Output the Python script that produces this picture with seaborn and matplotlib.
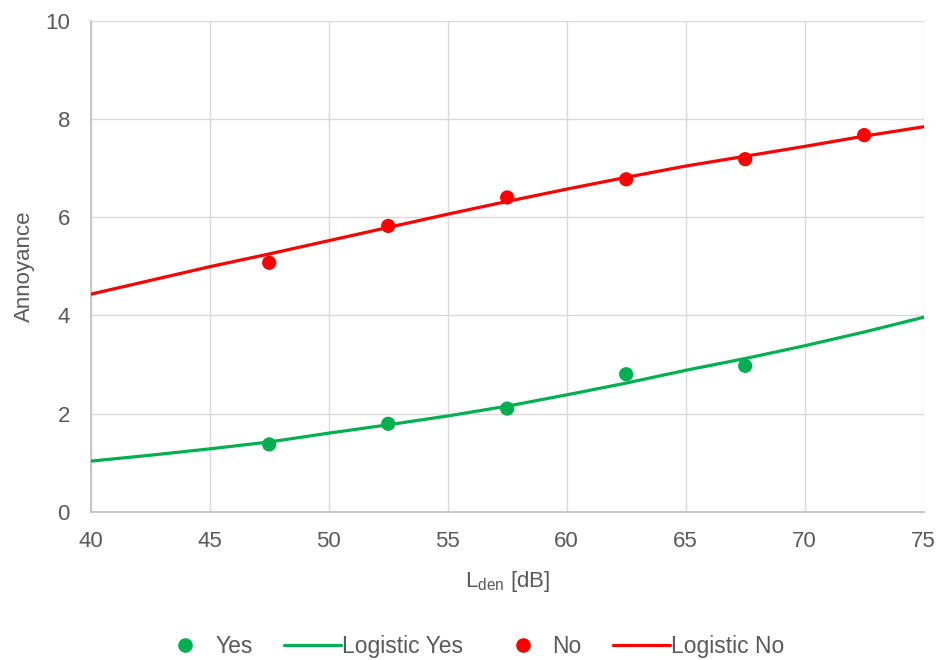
import numpy as np
import pandas as pd
import seaborn as sns
import matplotlib.pyplot as plt
from matplotlib.lines import Line2D

# measured survey points
lden_pts = [47.5, 52.5, 57.5, 62.5, 67.5, 72.5]
yes_pts = [1.37, 1.79, 2.10, 2.80, 2.97]
no_pts = [5.07, 5.82, 6.40, 6.77, 7.18, 7.67]

# fitted logistic curves, every 2.5 dB
lden_fit = [40, 42.5, 45, 47.5, 50, 52.5, 55, 57.5, 60, 62.5, 65, 67.5, 70, 72.5, 75]
yes_fit = [1.03, 1.15, 1.28, 1.42, 1.60, 1.77, 1.95, 2.15, 2.38, 2.62, 2.88, 3.12, 3.38, 3.66, 3.96]
no_fit = [4.43, 4.71, 4.99, 5.25, 5.52, 5.79, 6.06, 6.32, 6.57, 6.81, 7.04, 7.24, 7.44, 7.65, 7.84]

green = "#00B050"
red = "#FF0000"
txt = "#595959"

sns.set_style("whitegrid")
plt.rcParams['font.family'] = ['Liberation Sans', 'DejaVu Sans']

df_pts = pd.concat([
    pd.DataFrame({"Lden": lden_pts[:len(yes_pts)], "Annoyance": yes_pts, "group": "Yes"}),
    pd.DataFrame({"Lden": lden_pts, "Annoyance": no_pts, "group": "No"}),
], ignore_index=True)
df_fit = pd.concat([
    pd.DataFrame({"Lden": lden_fit, "Annoyance": yes_fit, "group": "Logistic Yes"}),
    pd.DataFrame({"Lden": lden_fit, "Annoyance": no_fit, "group": "Logistic No"}),
], ignore_index=True)

fig = plt.figure(figsize=(9.41, 6.60), dpi=100)
ax = fig.add_axes([0.0964, 0.2247, 0.8852, 0.7439])

sns.lineplot(data=df_fit, x="Lden", y="Annoyance", hue="group",
             palette={"Logistic Yes": green, "Logistic No": red},
             linewidth=2.3, legend=False, ax=ax, zorder=3)
sns.scatterplot(data=df_pts, x="Lden", y="Annoyance", hue="group",
                palette={"Yes": green, "No": red}, s=105, edgecolor="none",
                legend=False, ax=ax, zorder=4)

ax.set_xlim(40, 75)
ax.set_ylim(0, 10)
ax.set_xticks(range(40, 76, 5))
ax.set_yticks(range(0, 11, 2))
ax.grid(True, color="#d9d9d9", linewidth=1.0)
for s in ["top", "right"]:
    ax.spines[s].set_visible(False)
for s in ["left", "bottom"]:
    ax.spines[s].set_color("#bfbfbf")
    ax.spines[s].set_linewidth(1.2)
ax.tick_params(axis="both", colors=txt, labelsize=16, length=0)
ax.tick_params(axis="x", pad=14)
ax.tick_params(axis="y", pad=15)
ax.set_xlabel(r"$\mathregular{L_{den}}$ [dB]", fontsize=16, color=txt, labelpad=12)
ax.set_ylabel("Annoyance", fontsize=16, color=txt, labelpad=7)

handles = [
    Line2D([], [], marker="o", linestyle="none", color=green, markersize=9.5),
    Line2D([], [], color=green, linewidth=2.3),
    Line2D([], [], marker="o", linestyle="none", color=red, markersize=9.5),
    Line2D([], [], color=red, linewidth=2.3),
]
labels = ["Yes", "Logistic Yes", "No", "Logistic No"]
fig.legend(handles, labels, loc="center", bbox_to_anchor=(0.5, 0.02), ncol=4,
           frameon=False, fontsize=16.5, labelcolor=txt, handlelength=2.5,
           columnspacing=1.35, handletextpad=0.05, borderaxespad=0)

fig.savefig("out.png", dpi=100)
